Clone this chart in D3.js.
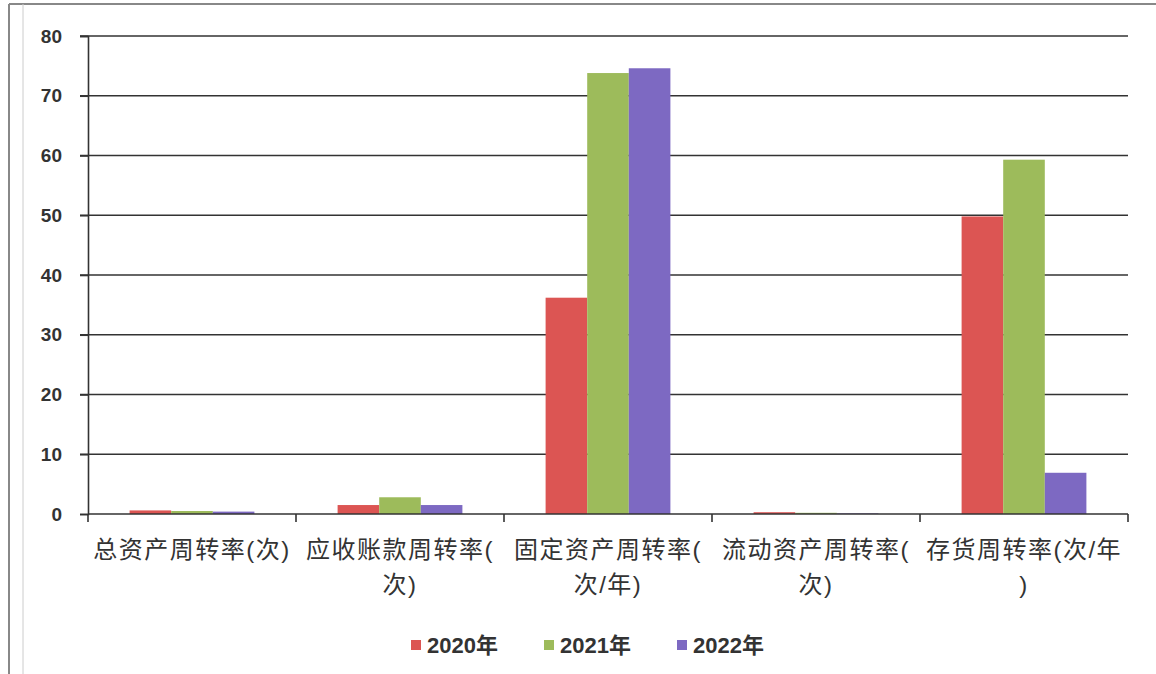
<!DOCTYPE html>
<html>
<head>
<meta charset="utf-8">
<style>
body { margin: 0; background: #fff; }
svg text { font-family: "Liberation Sans", "Noto Sans CJK SC", sans-serif; }
</style>
</head>
<body>
<script src="https://d3js.org/d3.v7.min.js"></script>
<script>
const W = 1156, H = 674;

// data
const categories = [
  ["总资产周转率(次)"],
  ["应收账款周转率(", "次)"],
  ["固定资产周转率(", "次/年)"],
  ["流动资产周转率(", "次)"],
  ["存货周转率(次/年", ")"]
];
const years = ["2020年", "2021年", "2022年"];
const v2020 = [0.6, 1.5, 36.2, 0.3, 49.8];
const v2021 = [0.5, 2.8, 73.8, 0.2, 59.3];
const v2022 = [0.4, 1.5, 74.6, 0.1, 6.9];
const yTicks = [0, 10, 20, 30, 40, 50, 60, 70, 80];
const colors = ["#dc5553", "#9dbb5b", "#7d69c2"];

const series = [v2020, v2021, v2022];

const svg = d3.select("body").append("svg")
  .attr("width", W).attr("height", H);

// frame
svg.append("line").attr("x1", 9).attr("x2", W).attr("y1", 4).attr("y2", 4)
  .attr("stroke", "#888").attr("stroke-width", 2);
svg.append("line").attr("x1", 9).attr("x2", 9).attr("y1", 4).attr("y2", H)
  .attr("stroke", "#888").attr("stroke-width", 2);
svg.append("line").attr("x1", 23).attr("x2", 23).attr("y1", 4).attr("y2", H)
  .attr("stroke", "#ccc").attr("stroke-width", 1);

const pLeft = 88, pRight = 1128, pTop = 36, pBottom = 514;

const x = d3.scaleBand()
  .domain(d3.range(categories.length))
  .range([pLeft, pRight])
  .paddingInner(0.4)
  .paddingOuter(0.2);
const xs = d3.scaleBand().domain(d3.range(years.length)).range([0, x.bandwidth()]);
const y = d3.scaleLinear().domain([0, 80]).range([pBottom, pTop]);

// gridlines
svg.append("g")
  .selectAll("line").data(yTicks.filter(d => d > 0)).join("line")
  .attr("x1", pLeft - 8).attr("x2", pRight)
  .attr("y1", d => y(d)).attr("y2", d => y(d))
  .attr("stroke", "#333").attr("stroke-width", 1.6);

// y axis
const yAxis = svg.append("g")
  .attr("transform", `translate(${pLeft},0)`)
  .call(d3.axisLeft(y).tickValues(yTicks).tickSize(8).tickPadding(18));
yAxis.select(".domain").attr("stroke", "#333").attr("stroke-width", 1.6);
yAxis.selectAll(".tick line").attr("stroke", "#333").attr("stroke-width", 1.6);
yAxis.selectAll("text").attr("font-size", 19).attr("font-weight", "bold").attr("fill", "#333");

// bars
const groups = svg.append("g").selectAll("g").data(categories).join("g")
  .attr("transform", (d, i) => `translate(${x(i)},0)`);
groups.selectAll("rect")
  .data((d, i) => series.map((s, k) => ({ k, v: s[i] })))
  .join("rect")
  .attr("x", d => xs(d.k))
  .attr("width", xs.bandwidth())
  .attr("y", d => y(d.v))
  .attr("height", d => y(0) - y(d.v))
  .attr("fill", d => colors[d.k]);

// x axis
const step = x.step();
const xBounds = d3.range(categories.length + 1).map(i => pLeft + i * step);
svg.append("line").attr("x1", pLeft).attr("x2", pRight).attr("y1", pBottom).attr("y2", pBottom)
  .attr("stroke", "#333").attr("stroke-width", 1.6);
svg.append("g").selectAll("line").data(xBounds).join("line")
  .attr("x1", d => d).attr("x2", d => d)
  .attr("y1", pBottom).attr("y2", pBottom + 8)
  .attr("stroke", "#333").attr("stroke-width", 1.6);

const labels = svg.append("g").selectAll("text").data(categories).join("text")
  .attr("text-anchor", "middle")
  .attr("font-size", 24)
  .attr("letter-spacing", 1.5)
  .attr("fill", "#333");
labels.selectAll("tspan").data((d, i) => d.map(t => ({ t, i }))).join("tspan")
  .attr("x", d => x(d.i) + x.bandwidth() / 2)
  .attr("y", (d, j) => 558 + j * 35)
  .text(d => d.t);

// legend
const legendX = [411, 544, 677];
const lg = svg.append("g").selectAll("g").data(years).join("g")
  .attr("transform", (d, i) => `translate(${legendX[i]},645)`);
lg.append("rect").attr("x", 0).attr("y", -5).attr("width", 10).attr("height", 10)
  .attr("fill", (d, i) => colors[i]);
lg.append("text").attr("x", 16).attr("y", 8)
  .attr("font-size", 22).attr("font-weight", "bold").attr("fill", "#333")
  .text(d => d);
</script>
</body>
</html>
